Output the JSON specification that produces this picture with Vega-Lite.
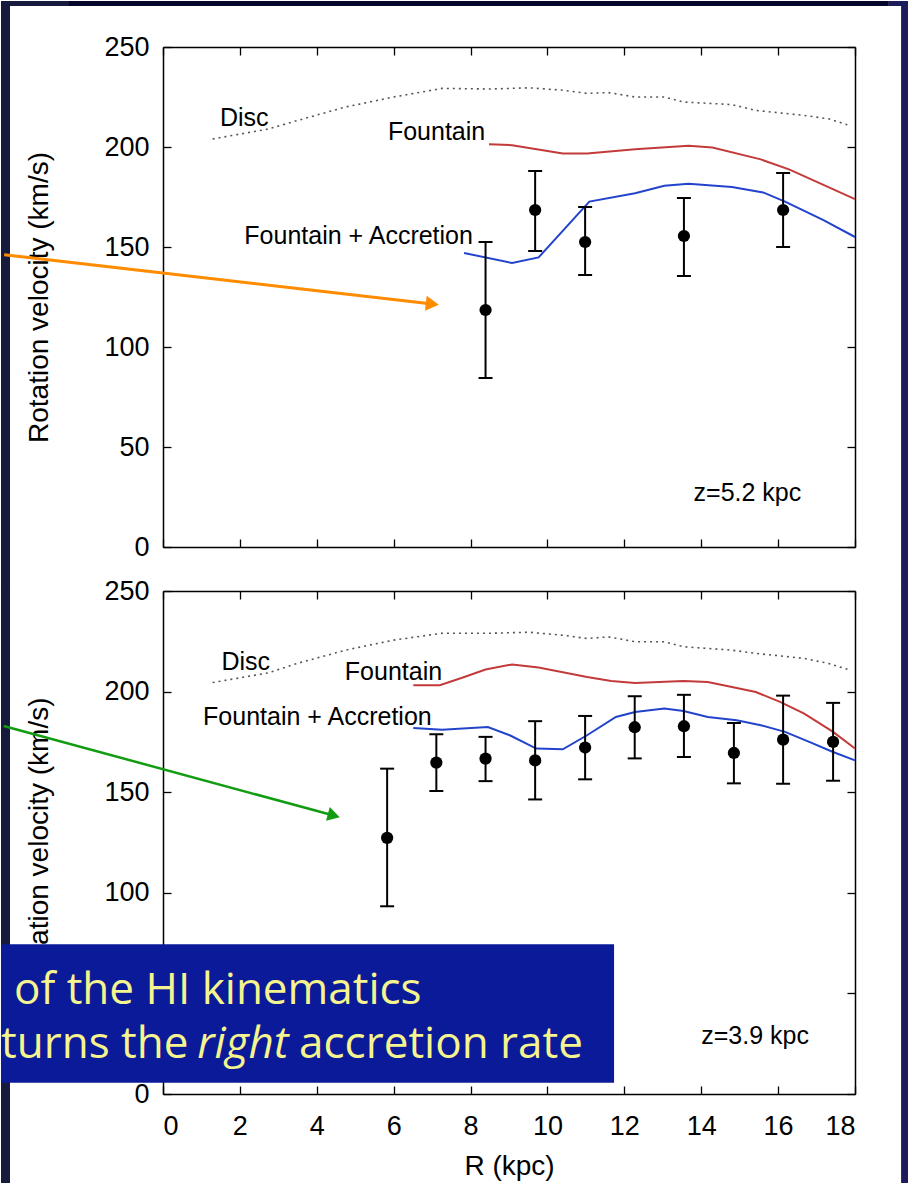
{
  "$schema": "https://vega.github.io/schema/vega-lite/v6.json",
  "padding": 0,
  "background": "white",
  "bounds": "flush",
  "spacing": 44,
  "config": {
    "view": {"stroke": null},
    "font": "Liberation Sans",
    "axis": {
      "domainColor": "black", "domainWidth": 1.5,
      "tickColor": "black", "tickWidth": 1.3, "tickSize": -8,
      "labelColor": "black", "titleColor": "black",
      "labelFont": "Liberation Sans", "titleFont": "Liberation Sans",
      "labelFontSize": 27, "titleFontSize": 28, "titleFontWeight": "normal",
      "grid": false
    }
  },
  "datasets": {
    "anchor": [{"R": 0, "V": 0}],
    "strips_top": [
      {"part": "left", "x0": -4.214, "x1": -3.98, "y0": 273, "y1": -22.5},
      {"part": "left", "x0": -4.214, "x1": -2.445, "y0": 273, "y1": 270.5},
      {"part": "top", "x0": -2.445, "x1": 18.88, "y0": 273, "y1": 270.5},
      {"part": "right", "x0": 18.88, "x1": 19.407, "y0": 273, "y1": 270.5},
      {"part": "right", "x0": 19.199, "x1": 19.407, "y0": 273, "y1": -22.5}
    ],
    "strips_bottom": [
      {"part": "left", "x0": -4.214, "x1": -3.98, "y0": 250, "y1": -44.73},
      {"part": "right", "x0": 19.199, "x1": 19.407, "y0": 250, "y1": -44.73}
    ],
    "models_top": [
      {"model": "Disc", "R": 1.29, "V": 204}, {"model": "Disc", "R": 2.74, "V": 209}, {"model": "Disc", "R": 3.49, "V": 213.2},
      {"model": "Disc", "R": 4.75, "V": 220}, {"model": "Disc", "R": 6.0, "V": 225}, {"model": "Disc", "R": 7.26, "V": 229.3},
      {"model": "Disc", "R": 8.52, "V": 229}, {"model": "Disc", "R": 9.52, "V": 229.6}, {"model": "Disc", "R": 10.4, "V": 228.4},
      {"model": "Disc", "R": 11.03, "V": 226.8}, {"model": "Disc", "R": 11.59, "V": 227.2}, {"model": "Disc", "R": 12.28, "V": 225},
      {"model": "Disc", "R": 13.04, "V": 225}, {"model": "Disc", "R": 13.54, "V": 222.5}, {"model": "Disc", "R": 14.8, "V": 221.2},
      {"model": "Disc", "R": 15.42, "V": 218.3}, {"model": "Disc", "R": 16.68, "V": 215.8}, {"model": "Disc", "R": 17.31, "V": 214.1},
      {"model": "Disc", "R": 17.87, "V": 210.7},
      {"model": "Fountain", "R": 8.48, "V": 201.4}, {"model": "Fountain", "R": 9.08, "V": 200.9}, {"model": "Fountain", "R": 10.4, "V": 196.8},
      {"model": "Fountain", "R": 11.03, "V": 196.8}, {"model": "Fountain", "R": 12.28, "V": 198.9}, {"model": "Fountain", "R": 13.67, "V": 200.6},
      {"model": "Fountain", "R": 14.29, "V": 199.7}, {"model": "Fountain", "R": 15.55, "V": 193.8}, {"model": "Fountain", "R": 16.3, "V": 188.7},
      {"model": "Fountain", "R": 18, "V": 173.9},
      {"model": "FA", "R": 7.83, "V": 147}, {"model": "FA", "R": 9.08, "V": 142}, {"model": "FA", "R": 9.77, "V": 144.8},
      {"model": "FA", "R": 11.09, "V": 172.7}, {"model": "FA", "R": 12.28, "V": 176.9}, {"model": "FA", "R": 13.04, "V": 180.6},
      {"model": "FA", "R": 13.67, "V": 181.6}, {"model": "FA", "R": 14.8, "V": 180}, {"model": "FA", "R": 15.61, "V": 177.3},
      {"model": "FA", "R": 16.18, "V": 172.7}, {"model": "FA", "R": 17.18, "V": 163.4}, {"model": "FA", "R": 18, "V": 155}
    ],
    "models_bottom": [
      {"model": "Disc", "R": 1.29, "V": 204.5}, {"model": "Disc", "R": 2.74, "V": 209.3}, {"model": "Disc", "R": 3.49, "V": 214},
      {"model": "Disc", "R": 4.75, "V": 220.6}, {"model": "Disc", "R": 6.0, "V": 225.6}, {"model": "Disc", "R": 7.26, "V": 229},
      {"model": "Disc", "R": 8.52, "V": 229}, {"model": "Disc", "R": 9.52, "V": 229.5}, {"model": "Disc", "R": 10.4, "V": 228},
      {"model": "Disc", "R": 11.03, "V": 226.4}, {"model": "Disc", "R": 11.59, "V": 227.2}, {"model": "Disc", "R": 12.28, "V": 224.8},
      {"model": "Disc", "R": 13.04, "V": 224.8}, {"model": "Disc", "R": 13.54, "V": 222.3}, {"model": "Disc", "R": 14.8, "V": 220.6},
      {"model": "Disc", "R": 15.42, "V": 219}, {"model": "Disc", "R": 16.68, "V": 216.5}, {"model": "Disc", "R": 17.31, "V": 214},
      {"model": "Disc", "R": 17.87, "V": 210.7},
      {"model": "Fountain", "R": 6.51, "V": 203.2}, {"model": "Fountain", "R": 7.2, "V": 203.2}, {"model": "Fountain", "R": 7.8, "V": 207},
      {"model": "Fountain", "R": 8.39, "V": 211}, {"model": "Fountain", "R": 9.08, "V": 213.5}, {"model": "Fountain", "R": 9.77, "V": 212},
      {"model": "Fountain", "R": 11.03, "V": 207.3}, {"model": "Fountain", "R": 11.66, "V": 205.3}, {"model": "Fountain", "R": 12.28, "V": 204.3},
      {"model": "Fountain", "R": 13.54, "V": 205.3}, {"model": "Fountain", "R": 14.17, "V": 204.8}, {"model": "Fountain", "R": 14.8, "V": 202.3},
      {"model": "Fountain", "R": 15.42, "V": 199.8}, {"model": "Fountain", "R": 16.05, "V": 194.9}, {"model": "Fountain", "R": 16.68, "V": 189.1},
      {"model": "Fountain", "R": 17.43, "V": 180}, {"model": "Fountain", "R": 18, "V": 171.7},
      {"model": "FA", "R": 6.51, "V": 181.9}, {"model": "FA", "R": 7.26, "V": 181.1}, {"model": "FA", "R": 8.45, "V": 182.4},
      {"model": "FA", "R": 9.02, "V": 178.3}, {"model": "FA", "R": 9.71, "V": 171.7}, {"model": "FA", "R": 10.4, "V": 171.3},
      {"model": "FA", "R": 11.03, "V": 178.3}, {"model": "FA", "R": 11.78, "V": 187.4}, {"model": "FA", "R": 12.28, "V": 189.9},
      {"model": "FA", "R": 13.04, "V": 191.6}, {"model": "FA", "R": 13.54, "V": 190.4}, {"model": "FA", "R": 14.17, "V": 187.4},
      {"model": "FA", "R": 14.92, "V": 185.8}, {"model": "FA", "R": 15.55, "V": 183.3}, {"model": "FA", "R": 16.18, "V": 180},
      {"model": "FA", "R": 16.81, "V": 175}, {"model": "FA", "R": 17.43, "V": 170}, {"model": "FA", "R": 18, "V": 165.8}
    ],
    "pts_top": [
      {"R": 8.39, "V": 118.5, "lo": 84.5, "hi": 152.5},
      {"R": 9.68, "V": 168.5, "lo": 148, "hi": 188},
      {"R": 10.98, "V": 152.5, "lo": 136, "hi": 170},
      {"R": 13.55, "V": 155.5, "lo": 135.5, "hi": 174.5},
      {"R": 16.13, "V": 168.5, "lo": 150, "hi": 187}
    ],
    "pts_bottom": [
      {"R": 5.83, "V": 127.3, "lo": 93.3, "hi": 161.7},
      {"R": 7.11, "V": 164.7, "lo": 150.6, "hi": 178.8},
      {"R": 8.39, "V": 166.7, "lo": 155.5, "hi": 177.5},
      {"R": 9.68, "V": 165.8, "lo": 146.4, "hi": 185.3},
      {"R": 10.98, "V": 172.2, "lo": 156.4, "hi": 187.9},
      {"R": 12.27, "V": 182.3, "lo": 166.8, "hi": 197.7},
      {"R": 13.55, "V": 182.8, "lo": 167.5, "hi": 198.4},
      {"R": 14.85, "V": 169.5, "lo": 154.4, "hi": 184.4},
      {"R": 16.13, "V": 176.1, "lo": 154.2, "hi": 198},
      {"R": 17.43, "V": 175, "lo": 155.7, "hi": 194.4}
    ],
    "labels_top": [
      {"R": 1.483, "V": 210.35, "t": "Disc"},
      {"R": 5.85, "V": 203.6, "t": "Fountain"},
      {"R": 2.115, "V": 151.35, "t": "Fountain + Accretion"},
      {"R": 13.8, "V": 23, "t": "z=5.2 kpc"}
    ],
    "labels_bottom": [
      {"R": 1.52, "V": 210.6, "t": "Disc"},
      {"R": 4.73, "V": 205.6, "t": "Fountain"},
      {"R": 1.043, "V": 183.4, "t": "Fountain + Accretion"},
      {"R": 14.0, "V": 25.0, "t": "z=3.9 kpc"}
    ],
    "arrow_top": [{"R": -4.131, "V": 146.16}, {"R": 7.006, "V": 121.5}],
    "head_top": [{"R": 7.006, "V": 121.5}],
    "arrow_bottom": [{"R": -4.144, "V": 182.9}, {"R": 4.443, "V": 138.4}],
    "head_bottom": [{"R": 4.443, "V": 138.4}],
    "box": [{"x0": -4.214, "x1": 11.733, "y0": 74.4, "y1": 5.6}],
    "box_line1": [{"R": -3.876, "V": 44.7, "t": "of the HI kinematics"}],
    "box_line2a": [{"R": -4.214, "V": 17.9, "t": "turns the"}],
    "box_line2b": [{"R": 0.89, "V": 17.9, "t": "right"}],
    "box_line2c": [{"R": 3.54, "V": 17.9, "t": "accretion rate"}]
  },
  "vconcat": [
    {
      "width": 692,
      "height": 500,
      "resolve": {"axis": {"x": "independent", "y": "independent"}},
      "layer": [
        {
          "data": {"name": "anchor"},
          "mark": {"type": "point", "opacity": 0},
          "encoding": {
            "x": {"field": "R", "type": "quantitative", "scale": {"domain": [0, 18], "nice": false, "zero": false},
                  "axis": {"orient": "bottom", "values": [0, 2, 4, 6, 8, 10, 12, 14, 16, 18], "labels": false, "title": null}},
            "y": {"field": "V", "type": "quantitative", "scale": {"domain": [0, 250], "nice": false},
                  "axis": {"orient": "left", "values": [0, 50, 100, 150, 200, 250], "title": "Rotation velocity (km/s)", "labelPadding": 22, "titlePadding": 50}}
          }
        },
        {
          "data": {"name": "anchor"},
          "mark": {"type": "point", "opacity": 0},
          "encoding": {
            "x": {"field": "R", "type": "quantitative", "scale": {"domain": [0, 18], "nice": false, "zero": false},
                  "axis": {"orient": "top", "values": [0, 2, 4, 6, 8, 10, 12, 14, 16, 18], "labels": false, "title": null}},
            "y": {"field": "V", "type": "quantitative", "scale": {"domain": [0, 250], "nice": false},
                  "axis": {"orient": "right", "values": [0, 50, 100, 150, 200, 250], "labels": false, "title": null}}
          }
        },
        {
          "data": {"name": "strips_top"},
          "mark": {"type": "rect", "clip": false},
          "encoding": {
            "x": {"field": "x0", "type": "quantitative", "axis": null},
            "x2": {"field": "x1"},
            "y": {"field": "y0", "type": "quantitative", "axis": null},
            "y2": {"field": "y1"},
            "color": {"field": "part", "type": "nominal", "legend": null,
                      "scale": {"domain": ["left", "top", "right"], "range": ["#161a3c", "#06062a", "#1c1c5c"]}}
          }
        },
        {
          "data": {"name": "models_top"},
          "transform": [{"filter": "datum.model === 'Disc'"}],
          "mark": {"type": "line", "color": "#555555", "strokeWidth": 1.6, "strokeDash": [2, 4]},
          "encoding": {"x": {"field": "R", "type": "quantitative", "axis": null}, "y": {"field": "V", "type": "quantitative", "axis": null}}
        },
        {
          "data": {"name": "models_top"},
          "transform": [{"filter": "datum.model === 'Fountain'"}],
          "mark": {"type": "line", "color": "#c33a3a", "strokeWidth": 2},
          "encoding": {"x": {"field": "R", "type": "quantitative", "axis": null}, "y": {"field": "V", "type": "quantitative", "axis": null}}
        },
        {
          "data": {"name": "models_top"},
          "transform": [{"filter": "datum.model === 'FA'"}],
          "mark": {"type": "line", "color": "#2244cc", "strokeWidth": 2},
          "encoding": {"x": {"field": "R", "type": "quantitative", "axis": null}, "y": {"field": "V", "type": "quantitative", "axis": null}}
        },
        {
          "data": {"name": "pts_top"},
          "mark": {"type": "rule", "color": "black", "strokeWidth": 2},
          "encoding": {"x": {"field": "R", "type": "quantitative", "axis": null}, "y": {"field": "lo", "type": "quantitative", "axis": null}, "y2": {"field": "hi"}}
        },
        {
          "data": {"name": "pts_top"},
          "mark": {"type": "tick", "orient": "horizontal", "color": "black", "size": 14, "thickness": 2, "opacity": 1},
          "encoding": {"x": {"field": "R", "type": "quantitative", "axis": null}, "y": {"field": "lo", "type": "quantitative", "axis": null}}
        },
        {
          "data": {"name": "pts_top"},
          "mark": {"type": "tick", "orient": "horizontal", "color": "black", "size": 14, "thickness": 2, "opacity": 1},
          "encoding": {"x": {"field": "R", "type": "quantitative", "axis": null}, "y": {"field": "hi", "type": "quantitative", "axis": null}}
        },
        {
          "data": {"name": "pts_top"},
          "mark": {"type": "circle", "color": "black", "size": 150, "opacity": 1},
          "encoding": {"x": {"field": "R", "type": "quantitative", "axis": null}, "y": {"field": "V", "type": "quantitative", "axis": null}}
        },
        {
          "data": {"name": "labels_top"},
          "mark": {"type": "text", "align": "left", "baseline": "alphabetic", "fontSize": 25, "font": "Liberation Sans", "color": "black"},
          "encoding": {"x": {"field": "R", "type": "quantitative", "axis": null}, "y": {"field": "V", "type": "quantitative", "axis": null}, "text": {"field": "t"}}
        },
        {
          "data": {"name": "arrow_top"},
          "mark": {"type": "line", "color": "#ff8c00", "strokeWidth": 3, "strokeJoin": "round", "strokeCap": "butt", "clip": false},
          "encoding": {"x": {"field": "R", "type": "quantitative", "axis": null}, "y": {"field": "V", "type": "quantitative", "axis": null}}
        },
        {
          "data": {"name": "head_top"},
          "mark": {"type": "point", "shape": "triangle-right", "filled": true, "color": "#ff8c00", "opacity": 1, "size": 230, "angle": 6.57, "clip": false},
          "encoding": {"x": {"field": "R", "type": "quantitative", "axis": null}, "y": {"field": "V", "type": "quantitative", "axis": null}}
        }
      ]
    },
    {
      "width": 692,
      "height": 503,
      "resolve": {"axis": {"x": "independent", "y": "independent"}},
      "layer": [
        {
          "data": {"name": "anchor"},
          "mark": {"type": "point", "opacity": 0},
          "encoding": {
            "x": {"field": "R", "type": "quantitative", "scale": {"domain": [0, 18], "nice": false, "zero": false},
                  "axis": {"orient": "bottom", "values": [0, 2, 4, 6, 8, 10, 12, 14, 16, 18], "title": "R (kpc)", "labelPadding": 27, "titlePadding": 13}},
            "y": {"field": "V", "type": "quantitative", "scale": {"domain": [0, 250], "nice": false},
                  "axis": {"orient": "left", "values": [0, 50, 100, 150, 200, 250], "labelExpr": "datum.value == 50 ? '' : datum.label", "title": "Rotation velocity (km/s)", "labelPadding": 22, "titlePadding": 50}}
          }
        },
        {
          "data": {"name": "anchor"},
          "mark": {"type": "point", "opacity": 0},
          "encoding": {
            "x": {"field": "R", "type": "quantitative", "scale": {"domain": [0, 18], "nice": false, "zero": false},
                  "axis": {"orient": "top", "values": [0, 2, 4, 6, 8, 10, 12, 14, 16, 18], "labels": false, "title": null}},
            "y": {"field": "V", "type": "quantitative", "scale": {"domain": [0, 250], "nice": false},
                  "axis": {"orient": "right", "values": [0, 50, 100, 150, 200, 250], "labels": false, "title": null}}
          }
        },
        {
          "data": {"name": "strips_bottom"},
          "mark": {"type": "rect", "clip": false},
          "encoding": {
            "x": {"field": "x0", "type": "quantitative", "axis": null},
            "x2": {"field": "x1"},
            "y": {"field": "y0", "type": "quantitative", "axis": null},
            "y2": {"field": "y1"},
            "color": {"field": "part", "type": "nominal", "legend": null,
                      "scale": {"domain": ["left", "top", "right"], "range": ["#161a3c", "#06062a", "#1c1c5c"]}}
          }
        },
        {
          "data": {"name": "models_bottom"},
          "transform": [{"filter": "datum.model === 'Disc'"}],
          "mark": {"type": "line", "color": "#555555", "strokeWidth": 1.6, "strokeDash": [2, 4]},
          "encoding": {"x": {"field": "R", "type": "quantitative", "axis": null}, "y": {"field": "V", "type": "quantitative", "axis": null}}
        },
        {
          "data": {"name": "models_bottom"},
          "transform": [{"filter": "datum.model === 'Fountain'"}],
          "mark": {"type": "line", "color": "#c33a3a", "strokeWidth": 2},
          "encoding": {"x": {"field": "R", "type": "quantitative", "axis": null}, "y": {"field": "V", "type": "quantitative", "axis": null}}
        },
        {
          "data": {"name": "models_bottom"},
          "transform": [{"filter": "datum.model === 'FA'"}],
          "mark": {"type": "line", "color": "#2244cc", "strokeWidth": 2},
          "encoding": {"x": {"field": "R", "type": "quantitative", "axis": null}, "y": {"field": "V", "type": "quantitative", "axis": null}}
        },
        {
          "data": {"name": "pts_bottom"},
          "mark": {"type": "rule", "color": "black", "strokeWidth": 2},
          "encoding": {"x": {"field": "R", "type": "quantitative", "axis": null}, "y": {"field": "lo", "type": "quantitative", "axis": null}, "y2": {"field": "hi"}}
        },
        {
          "data": {"name": "pts_bottom"},
          "mark": {"type": "tick", "orient": "horizontal", "color": "black", "size": 14, "thickness": 2, "opacity": 1},
          "encoding": {"x": {"field": "R", "type": "quantitative", "axis": null}, "y": {"field": "lo", "type": "quantitative", "axis": null}}
        },
        {
          "data": {"name": "pts_bottom"},
          "mark": {"type": "tick", "orient": "horizontal", "color": "black", "size": 14, "thickness": 2, "opacity": 1},
          "encoding": {"x": {"field": "R", "type": "quantitative", "axis": null}, "y": {"field": "hi", "type": "quantitative", "axis": null}}
        },
        {
          "data": {"name": "pts_bottom"},
          "mark": {"type": "circle", "color": "black", "size": 150, "opacity": 1},
          "encoding": {"x": {"field": "R", "type": "quantitative", "axis": null}, "y": {"field": "V", "type": "quantitative", "axis": null}}
        },
        {
          "data": {"name": "labels_bottom"},
          "mark": {"type": "text", "align": "left", "baseline": "alphabetic", "fontSize": 25, "font": "Liberation Sans", "color": "black"},
          "encoding": {"x": {"field": "R", "type": "quantitative", "axis": null}, "y": {"field": "V", "type": "quantitative", "axis": null}, "text": {"field": "t"}}
        },
        {
          "data": {"name": "box"},
          "mark": {"type": "rect", "color": "#0a1a98", "opacity": 1, "clip": false},
          "encoding": {
            "x": {"field": "x0", "type": "quantitative", "axis": null},
            "x2": {"field": "x1"},
            "y": {"field": "y0", "type": "quantitative", "axis": null},
            "y2": {"field": "y1"}
          }
        },
        {
          "data": {"name": "box_line1"},
          "mark": {"type": "text", "align": "left", "baseline": "alphabetic", "fontSize": 44, "font": "Open Sans", "color": "#f6f48e", "clip": false},
          "encoding": {"x": {"field": "R", "type": "quantitative", "axis": null}, "y": {"field": "V", "type": "quantitative", "axis": null}, "text": {"field": "t"}}
        },
        {
          "data": {"name": "box_line2a"},
          "mark": {"type": "text", "align": "left", "baseline": "alphabetic", "fontSize": 44, "font": "Open Sans", "color": "#f6f48e", "clip": false},
          "encoding": {"x": {"field": "R", "type": "quantitative", "axis": null}, "y": {"field": "V", "type": "quantitative", "axis": null}, "text": {"field": "t"}}
        },
        {
          "data": {"name": "box_line2b"},
          "mark": {"type": "text", "align": "left", "baseline": "alphabetic", "fontSize": 44, "font": "Open Sans", "fontStyle": "italic", "color": "#f6f48e", "clip": false},
          "encoding": {"x": {"field": "R", "type": "quantitative", "axis": null}, "y": {"field": "V", "type": "quantitative", "axis": null}, "text": {"field": "t"}}
        },
        {
          "data": {"name": "box_line2c"},
          "mark": {"type": "text", "align": "left", "baseline": "alphabetic", "fontSize": 44, "font": "Open Sans", "color": "#f6f48e", "clip": false},
          "encoding": {"x": {"field": "R", "type": "quantitative", "axis": null}, "y": {"field": "V", "type": "quantitative", "axis": null}, "text": {"field": "t"}}
        },
        {
          "data": {"name": "arrow_bottom"},
          "mark": {"type": "line", "color": "#129c12", "strokeWidth": 2.5, "strokeJoin": "round", "strokeCap": "butt", "clip": false},
          "encoding": {"x": {"field": "R", "type": "quantitative", "axis": null}, "y": {"field": "V", "type": "quantitative", "axis": null}}
        },
        {
          "data": {"name": "head_bottom"},
          "mark": {"type": "point", "shape": "triangle-right", "filled": true, "color": "#129c12", "opacity": 1, "size": 200, "angle": 15.16, "clip": false},
          "encoding": {"x": {"field": "R", "type": "quantitative", "axis": null}, "y": {"field": "V", "type": "quantitative", "axis": null}}
        }
      ]
    }
  ]
}
